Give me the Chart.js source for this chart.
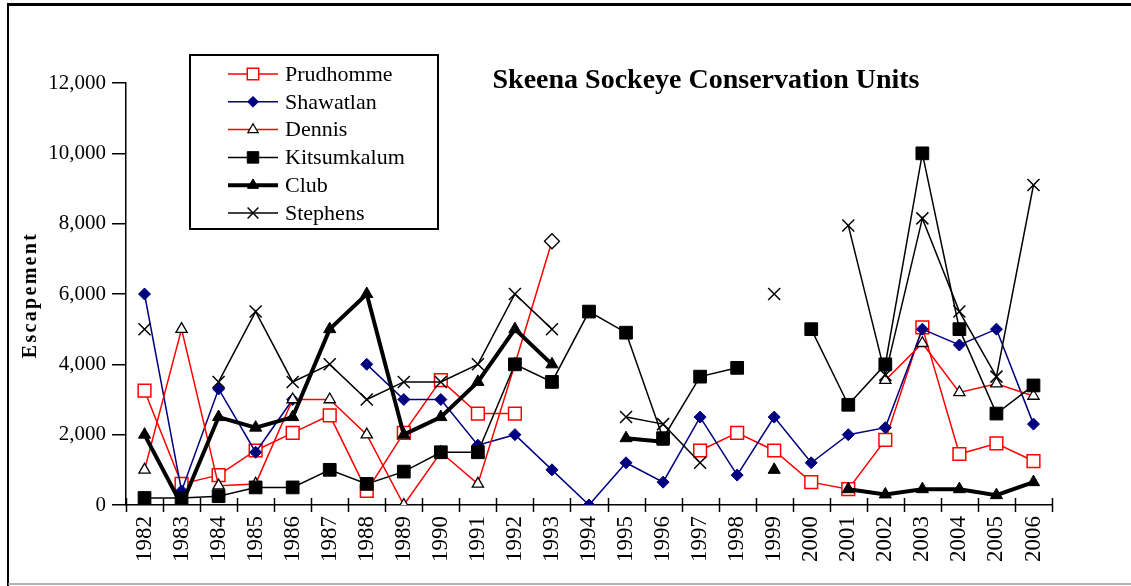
<!DOCTYPE html>
<html>
<head>
<meta charset="utf-8">
<script src="https://cdn.jsdelivr.net/npm/chart.js@4.4.1/dist/chart.umd.min.js"></script>
<style>
  body { margin: 0; background: #fff; }
  canvas { display: block; }
</style>
</head>
<body>
<canvas id="grafico" width="1131" height="586"></canvas>
<script>
const years = ['1982', '1983', '1984', '1985', '1986', '1987', '1988', '1989', '1990', '1991', '1992', '1993',
    '1994', '1995', '1996', '1997', '1998', '1999', '2000', '2001', '2002', '2003', '2004', '2005', '2006'];

const prudhomme = [3250, 600, 850, 1550, 2050, 2550, 400, 2050, 3550, 2600, 2600, null,
    null, null, null, 1550, 2050, 1550, 650, 450, 1850, 5050, 1450, 1750, 1250];
const shawatlan = [6000, 400, 3300, 1500, 3000, null, 4000, 3000, 3000, 1700, 2000, 1000,
    0, 1200, 650, 2500, 850, 2500, 1200, 2000, 2200, 5000, 4550, 5000, 2300];
const dennis = [1000, 5000, 550, 600, 3000, 3000, 2000, 0, 1500, 600, 4000, 7500,
    null, null, null, null, null, null, null, null, 3550, 4600, 3200, 3450, 3100];
const kitsumkalum = [200, 200, 250, 500, 500, 1000, 600, 950, 1500, 1500, 4000, 3500,
    5500, 4900, 1900, 3650, 3900, null, 5000, 2850, 4000, 10000, 5000, 2600, 3400];
const club = [2000, 0, 2500, 2200, 2500, 5000, 6000, 2000, 2500, 3500, 5000, 4000,
    null, 1900, 1800, null, null, 1000, null, 450, 300, 450, 450, 280, 650];
const stephens = [5000, null, 3500, 5500, 3500, 4000, 3000, 3500, 3500, 4000, 6000, 5000,
    null, 2500, 2300, 1200, null, 6000, null, 7950, 3700, 8150, 5500, 3650, 9100];

const yTicks = [0, 2000, 4000, 6000, 8000, 10000, 12000];

const fuente = "'Liberation Serif', 'Times New Roman', serif";

// el punt de 1993 de Dennis surt com un rombe buit
let estilDennis = dennis.map((v, i) => i === 11 ? 'rectRot' : 'triangle');
let radiDennis = dennis.map((v, i) => i === 11 ? 7.5 : 6.5);

let series = [
    { label: 'Prudhomme', data: prudhomme, borderColor: '#ff0000', borderWidth: 1.5,
      pointStyle: 'rect', pointRadius: 9, pointBackgroundColor: '#ffffff', pointBorderColor: '#ff0000', pointBorderWidth: 1.5 },
    { label: 'Shawatlan', data: shawatlan, borderColor: '#000080', borderWidth: 1.5,
      pointStyle: 'rectRot', pointRadius: 6, pointBackgroundColor: '#000080', pointBorderColor: '#000080', pointBorderWidth: 1 },
    { label: 'Dennis', data: dennis, borderColor: '#ff0000', borderWidth: 1.5,
      pointStyle: estilDennis, pointRadius: radiDennis, pointBackgroundColor: '#ffffff', pointBorderColor: '#000000', pointBorderWidth: 1.3 },
    { label: 'Kitsumkalum', data: kitsumkalum, borderColor: '#000000', borderWidth: 1.5,
      pointStyle: 'rect', pointRadius: 9, pointBackgroundColor: '#000000', pointBorderColor: '#000000', pointBorderWidth: 1 },
    { label: 'Club', data: club, borderColor: '#000000', borderWidth: 4,
      pointStyle: 'triangle', pointRadius: 7, pointBackgroundColor: '#000000', pointBorderColor: '#000000', pointBorderWidth: 1 },
    { label: 'Stephens', data: stephens, borderColor: '#000000', borderWidth: 1.5,
      pointStyle: 'crossRot', pointRadius: 8.5, pointBackgroundColor: '#000000', pointBorderColor: '#000000', pointBorderWidth: 1.5 }
];

// com a Excel, la darrera serie queda per sobre
series.forEach((s, i) => {
    s.order = -i;
    s.fill = false;
    s.tension = 0;
    s.spanGaps = false;
});

const extras = {
    id: 'extras',
    beforeDraw(chart) {
        let ctx = chart.ctx;
        ctx.save();
        ctx.fillStyle = '#ffffff';
        ctx.fillRect(0, 0, chart.width, chart.height);
        ctx.restore();
    },
    afterDraw(chart) {
        let ctx = chart.ctx;
        let x = chart.scales.x;
        let area = chart.chartArea;
        ctx.save();

        // marques de l'eix x entre categories
        let ample = x.getPixelForValue(1) - x.getPixelForValue(0);
        ctx.strokeStyle = '#000000';
        ctx.lineWidth = 1.5;
        for (let i = 0; i <= years.length; i++) {
            let px = Math.round(x.getPixelForValue(0) - ample / 2 + i * ample) + 0.5;
            ctx.beginPath();
            ctx.moveTo(px, area.bottom - 7);
            ctx.lineTo(px, area.bottom + 7);
            ctx.stroke();
        }

        // marc exterior
        ctx.strokeStyle = '#000000';
        ctx.lineWidth = 2;
        ctx.beginPath();
        ctx.moveTo(8, 586);
        ctx.lineTo(8, 5);
        ctx.stroke();
        ctx.lineWidth = 3;
        ctx.beginPath();
        ctx.moveTo(7, 4.5);
        ctx.lineTo(1131, 4.5);
        ctx.stroke();
        ctx.strokeStyle = '#999999';
        ctx.lineWidth = 1.5;
        ctx.beginPath();
        ctx.moveTo(8, 584);
        ctx.lineTo(1131, 584);
        ctx.stroke();

        // titol
        ctx.fillStyle = '#000000';
        ctx.font = 'bold 28px ' + fuente;
        ctx.textAlign = 'center';
        ctx.textBaseline = 'alphabetic';
        ctx.fillText('Skeena Sockeye Conservation Units', 706, 88);

        // etiqueta de l'eix y
        ctx.save();
        ctx.translate(36, 295);
        ctx.rotate(-Math.PI / 2);
        ctx.font = 'bold 20px ' + fuente;
        ctx.letterSpacing = '2.3px';
        ctx.textAlign = 'center';
        ctx.textBaseline = 'alphabetic';
        ctx.fillText('Escapement', 0, 0);
        ctx.restore();

        // llegenda
        ctx.fillStyle = '#ffffff';
        ctx.fillRect(190, 55, 248, 174);
        ctx.strokeStyle = '#000000';
        ctx.lineWidth = 2;
        ctx.strokeRect(190, 55, 248, 174);
        chart.data.datasets.forEach((ds, i) => {
            let ly = 74 + i * 27.8;
            ctx.strokeStyle = ds.borderColor;
            ctx.lineWidth = ds.borderWidth;
            ctx.beginPath();
            ctx.moveTo(228, ly);
            ctx.lineTo(278, ly);
            ctx.stroke();
            let estil = Array.isArray(ds.pointStyle) ? ds.pointStyle[0] : ds.pointStyle;
            let radi = Array.isArray(ds.pointRadius) ? ds.pointRadius[0] : ds.pointRadius;
            ctx.fillStyle = ds.pointBackgroundColor;
            ctx.strokeStyle = ds.pointBorderColor;
            ctx.lineWidth = ds.pointBorderWidth;
            Chart.helpers.drawPoint(ctx, { pointStyle: estil, radius: radi * 0.9, rotation: 0, borderWidth: ds.pointBorderWidth }, 253, ly);
            ctx.fillStyle = '#000000';
            ctx.font = '22px ' + fuente;
            ctx.textAlign = 'left';
            ctx.textBaseline = 'middle';
            ctx.fillText(ds.label, 285, ly + 1);
        });

        ctx.restore();
    }
};

let config = {
    type: 'line',
    data: {
        labels: years,
        datasets: series
    },
    options: {
        responsive: false,
        animation: false,
        events: [],
        layout: {
            padding: { top: 83, right: 79, left: 0, bottom: 0 }
        },
        plugins: {
            legend: { display: false },
            title: { display: false },
            tooltip: { enabled: false }
        },
        scales: {
            x: {
                type: 'category',
                offset: true,
                grid: {
                    offset: true,
                    drawOnChartArea: false,
                    drawTicks: true,
                    tickLength: 8,
                    color: 'transparent'
                },
                border: { display: true, color: '#000000', width: 1.5 },
                ticks: {
                    autoSkip: false,
                    minRotation: 90,
                    maxRotation: 90,
                    padding: 3,
                    color: '#000000',
                    font: { family: fuente, size: 23 }
                },
                afterFit: (scale) => { scale.height = 81; }
            },
            y: {
                min: yTicks[0],
                max: yTicks[yTicks.length - 1],
                afterBuildTicks: (scale) => { scale.ticks = yTicks.map(v => ({ value: v })); },
                grid: {
                    drawOnChartArea: false,
                    drawTicks: true,
                    tickLength: 14,
                    color: '#000000',
                    lineWidth: 1.5
                },
                border: { display: true, color: '#000000', width: 1.5 },
                ticks: {
                    padding: 6,
                    color: '#000000',
                    font: { family: fuente, size: 21 },
                    callback: (v) => Number(v).toLocaleString('en-US')
                },
                afterFit: (scale) => { scale.width = 126; }
            }
        }
    },
    plugins: [extras]
};

new Chart(document.getElementById('grafico').getContext('2d'), config);
</script>
</body>
</html>
